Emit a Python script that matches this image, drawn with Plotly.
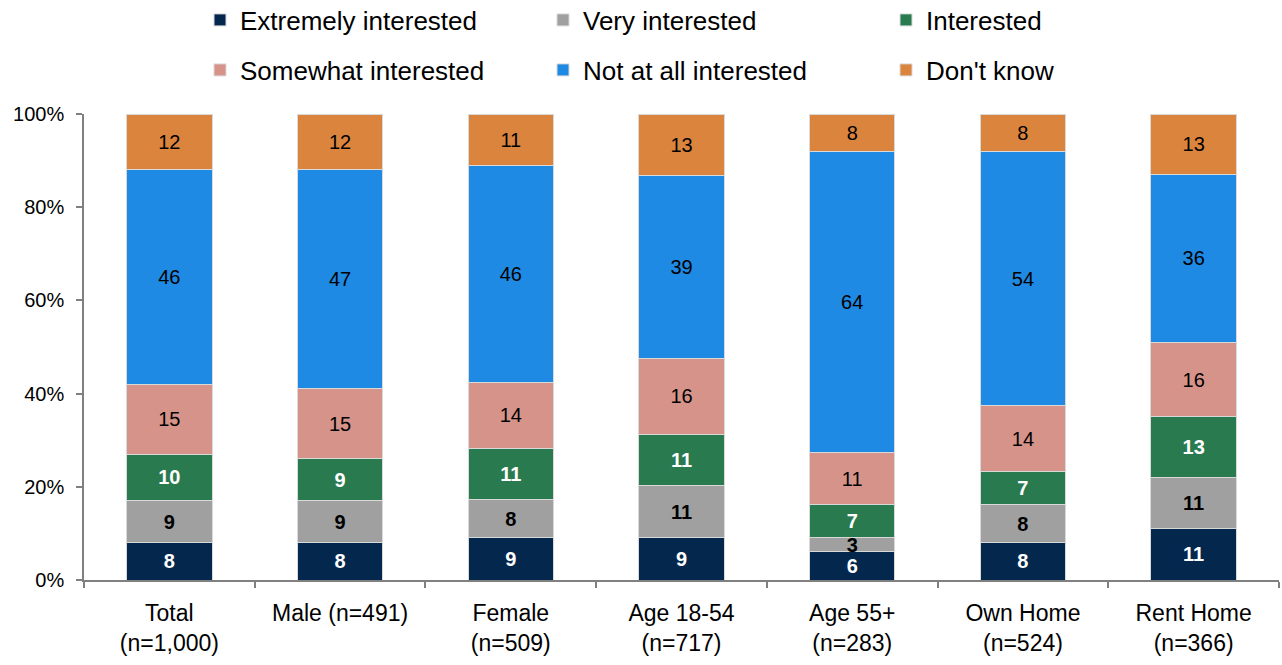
import plotly.graph_objects as go

# Survey groups along the x axis
categories = [
    "Total<br>(n=1,000)",
    "Male (n=491)",
    "Female<br>(n=509)",
    "Age 18-54<br>(n=717)",
    "Age 55+<br>(n=283)",
    "Own Home<br>(n=524)",
    "Rent Home<br>(n=366)",
]

# Percent of respondents per interest level
extremely_interested = [8, 8, 9, 9, 6, 8, 11]
very_interested = [9, 9, 8, 11, 3, 8, 11]
interested = [10, 9, 11, 11, 7, 7, 13]
somewhat_interested = [15, 15, 14, 16, 11, 14, 16]
not_at_all_interested = [46, 47, 46, 39, 64, 54, 36]
dont_know = [12, 12, 11, 13, 8, 8, 13]

y_ticks = [0, 20, 40, 60, 80, 100]
y_tick_labels = ["0%", "20%", "40%", "60%", "80%", "100%"]

FONT = "Liberation Sans, Arial, sans-serif"

series = [
    ("Extremely interested", extremely_interested, "#03274d", "white", True, "legend"),
    ("Very interested", very_interested, "#a0a0a0", "black", True, "legend"),
    ("Interested", interested, "#2a7a4f", "white", True, "legend"),
    ("Somewhat interested", somewhat_interested, "#d6938a", "black", False, "legend2"),
    ("Not at all interested", not_at_all_interested, "#1f8ae3", "black", False, "legend2"),
    ("Don't know", dont_know, "#db843d", "black", False, "legend2"),
]

fig = go.Figure()
for name, vals, color, tcolor, bold, leg in series:
    fig.add_trace(
        go.Bar(
            name=name,
            x=categories,
            y=vals,
            text=vals,
            texttemplate="<b>%{text}</b>" if bold else "%{text}",
            textposition="inside",
            insidetextanchor="middle",
            textangle=0,
            textfont=dict(family=FONT, size=20, color=tcolor),
            marker=dict(color=color, line=dict(color="#d9d9d9", width=1)),
            legend=leg,
        )
    )

legend_common = dict(
    orientation="h",
    xref="container",
    yref="container",
    x=200 / 1282,
    xanchor="left",
    yanchor="middle",
    font=dict(family=FONT, size=26, color="#000000"),
    entrywidth=298,
    bgcolor="rgba(0,0,0,0)",
    traceorder="normal",
)

fig.update_layout(
    barmode="stack",
    barnorm="percent",
    bargap=0.5,
    width=1282,
    height=665,
    margin=dict(l=84, r=3, t=114, b=85),
    paper_bgcolor="white",
    plot_bgcolor="white",
    font=dict(family=FONT, color="#000000"),
    uniformtext=dict(minsize=20, mode="show"),
    legend=dict(legend_common, y=1 - 20 / 665),
    legend2=dict(legend_common, y=1 - 70 / 665),
    xaxis=dict(
        type="category",
        showline=True,
        linecolor="#808080",
        linewidth=1.5,
        ticks="outside",
        tickson="boundaries",
        ticklen=6,
        tickcolor="#808080",
        tickwidth=1.5,
        tickfont=dict(family=FONT, size=23, color="#000000"),
        ticklabelstandoff=12,
        showgrid=False,
        zeroline=False,
    ),
    yaxis=dict(
        range=[0, 100],
        tickmode="array",
        tickvals=y_ticks,
        ticktext=y_tick_labels,
        showline=True,
        linecolor="#808080",
        linewidth=1.5,
        ticks="outside",
        ticklen=6,
        tickcolor="#808080",
        tickwidth=1.5,
        tickfont=dict(family=FONT, size=20, color="#000000"),
        ticklabelstandoff=8,
        showgrid=False,
        zeroline=False,
    ),
)

fig.write_html("out.html")
